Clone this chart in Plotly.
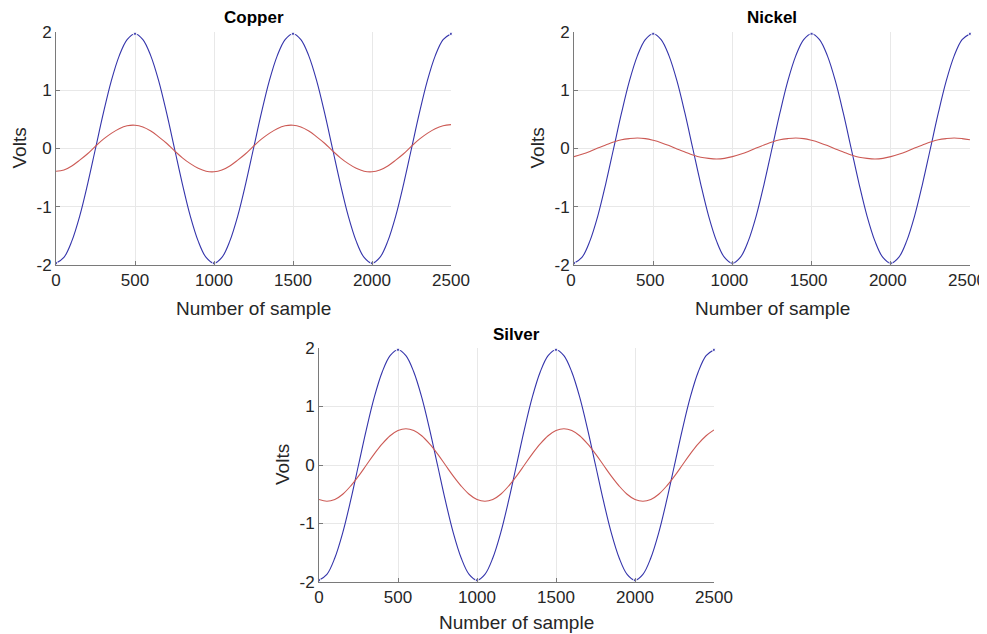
import plotly.graph_objects as go

# ---- data ----
sample_numbers = [0, 50, 100, 150, 200, 250, 300, 350, 400, 450,
                  500, 550, 600, 650, 700, 750, 800, 850, 900, 950,
                  1000, 1050, 1100, 1150, 1200, 1250, 1300, 1350, 1400, 1450,
                  1500, 1550, 1600, 1650, 1700, 1750, 1800, 1850, 1900, 1950,
                  2000, 2050, 2100, 2150, 2200, 2250, 2300, 2350, 2400, 2450,
                  2500]

reference_volts = [-1.97, -1.87, -1.59, -1.16, -0.61, 0.00, 0.61, 1.16, 1.59, 1.87,
                   1.97, 1.87, 1.59, 1.16, 0.61, 0.00, -0.61, -1.16, -1.59, -1.87,
                   -1.97, -1.87, -1.59, -1.16, -0.61, 0.00, 0.61, 1.16, 1.59, 1.87,
                   1.97, 1.87, 1.59, 1.16, 0.61, 0.00, -0.61, -1.16, -1.59, -1.87,
                   -1.97, -1.87, -1.59, -1.16, -0.61, 0.00, 0.61, 1.16, 1.59, 1.87,
                   1.97]

copper_volts = [-0.39, -0.37, -0.30, -0.20, -0.09, 0.04, 0.16, 0.26, 0.34, 0.39,
                0.40, 0.37, 0.30, 0.20, 0.09, -0.04, -0.16, -0.26, -0.34, -0.39,
                -0.40, -0.37, -0.30, -0.20, -0.09, 0.04, 0.16, 0.26, 0.34, 0.39,
                0.40, 0.37, 0.30, 0.20, 0.09, -0.04, -0.16, -0.26, -0.34, -0.39,
                -0.40, -0.37, -0.30, -0.20, -0.09, 0.04, 0.16, 0.26, 0.34, 0.39,
                0.41]

nickel_volts = [-0.14, -0.10, -0.05, 0.01, 0.06, 0.11, 0.15, 0.17, 0.18, 0.17,
                0.14, 0.10, 0.05, -0.01, -0.06, -0.11, -0.15, -0.17, -0.18, -0.17,
                -0.14, -0.10, -0.05, 0.01, 0.06, 0.11, 0.15, 0.17, 0.18, 0.17,
                0.14, 0.10, 0.05, -0.01, -0.06, -0.11, -0.15, -0.17, -0.18, -0.17,
                -0.14, -0.10, -0.05, 0.01, 0.06, 0.11, 0.15, 0.17, 0.18, 0.17,
                0.15]

silver_volts = [-0.59, -0.62, -0.59, -0.50, -0.36, -0.19, 0.00, 0.19, 0.36, 0.50,
                0.59, 0.62, 0.59, 0.50, 0.36, 0.19, 0.00, -0.19, -0.36, -0.50,
                -0.59, -0.62, -0.59, -0.50, -0.36, -0.19, 0.00, 0.19, 0.36, 0.50,
                0.59, 0.62, 0.59, 0.50, 0.36, 0.19, 0.00, -0.19, -0.36, -0.50,
                -0.59, -0.62, -0.59, -0.50, -0.36, -0.19, 0.00, 0.19, 0.36, 0.50,
                0.60]

panel_titles = ["Copper", "Nickel", "Silver"]
x_ticks = [0, 500, 1000, 1500, 2000, 2500]
x_tick_labels = ["0", "500", "1000", "1500", "2000", "2500"]
y_ticks = [-2, -1, 0, 1, 2]
y_tick_labels = ["-2", "-1", "0", "1", "2"]
x_label = "Number of sample"
y_label = "Volts"

# ---- layout geometry (pixels, in window coordinates) ----
OFF = 8  # the page body offsets the figure by 8 px
W, H = 987 - OFF, 634 - OFF
panels = [
    # (x0, x1, ytop, ybottom, x-label gap, tick label shift) in window pixels
    (56, 451, 32, 265, 43, 0),
    (574, 970, 32, 265, 43, -3),
    (319, 714, 348, 582, 40, 0),
]
material_series = [copper_volts, nickel_volts, silver_volts]

BLUE = "#3434ab"
RED = "#cc5a55"
TEXT = "#262626"
GRID = "#e8e8e8"
AXIS = "#7a7a7a"
FONT = "Liberation Sans, Arial, sans-serif"


def px(v):
    return (v - OFF) / W


def py(v):
    return 1 - (v - OFF) / H


# small dots where the reference signal sits at its extremes
blue_marker_sizes = [3 if abs(v) >= 1.97 else 0 for v in reference_volts]

fig = go.Figure()
layout = dict(
    width=W, height=H,
    margin=dict(l=0, r=0, t=0, b=0, pad=0, autoexpand=False),
    paper_bgcolor="white", plot_bgcolor="white",
    showlegend=False,
    font=dict(family=FONT, color=TEXT),
)
annotations = []

for i, ((x0, x1, yt, yb, gap, shift), series, title) in enumerate(zip(panels, material_series, panel_titles)):
    sfx = "" if i == 0 else str(i + 1)
    xa, ya = "x" + sfx, "y" + sfx
    fig.add_trace(go.Scatter(x=sample_numbers, y=reference_volts, mode="lines+markers",
                             line=dict(color=BLUE, width=1.1, shape="spline"),
                             marker=dict(color=BLUE, size=blue_marker_sizes, symbol="square"),
                             cliponaxis=False,
                             xaxis=xa, yaxis=ya))
    fig.add_trace(go.Scatter(x=sample_numbers, y=series, mode="lines",
                             line=dict(color=RED, width=1.1, shape="spline"),
                             xaxis=xa, yaxis=ya))
    axcommon = dict(showgrid=True, gridcolor=GRID, gridwidth=1, zeroline=False,
                    showline=True, linecolor=AXIS, linewidth=1, mirror=False,
                    ticks="inside", ticklen=4, tickcolor=AXIS, automargin=False,
                    ticklabeloverflow="allow",
                    tickfont=dict(size=17, color=TEXT, family=FONT))
    layout["xaxis" + sfx] = dict(axcommon, domain=[px(x0), px(x1)], range=[0, 2500],
                                 tickvals=x_ticks, ticktext=x_tick_labels, anchor=ya,
                                 ticklabelshift=shift)
    layout["yaxis" + sfx] = dict(axcommon, domain=[py(yb), py(yt)], range=[-2, 2],
                                 tickvals=y_ticks, ticktext=y_tick_labels, anchor=xa)
    cx = (x0 + x1) / 2
    annotations.append(dict(text="<b>" + title + "</b>", x=px(cx), y=py(yt - 14),
                            xref="paper", yref="paper", xanchor="center", yanchor="middle",
                            showarrow=False, font=dict(size=17, color="black", family=FONT)))
    annotations.append(dict(text=x_label, x=px(cx), y=py(yb + gap),
                            xref="paper", yref="paper", xanchor="center", yanchor="middle",
                            showarrow=False, font=dict(size=19, color=TEXT, family=FONT)))
    annotations.append(dict(text=y_label, x=px(x0 - 37), y=py((yt + yb) / 2),
                            xref="paper", yref="paper", xanchor="center", yanchor="middle",
                            textangle=-90,
                            showarrow=False, font=dict(size=19, color=TEXT, family=FONT)))

layout["annotations"] = annotations
fig.update_layout(**layout)
fig.write_html("out.html")
